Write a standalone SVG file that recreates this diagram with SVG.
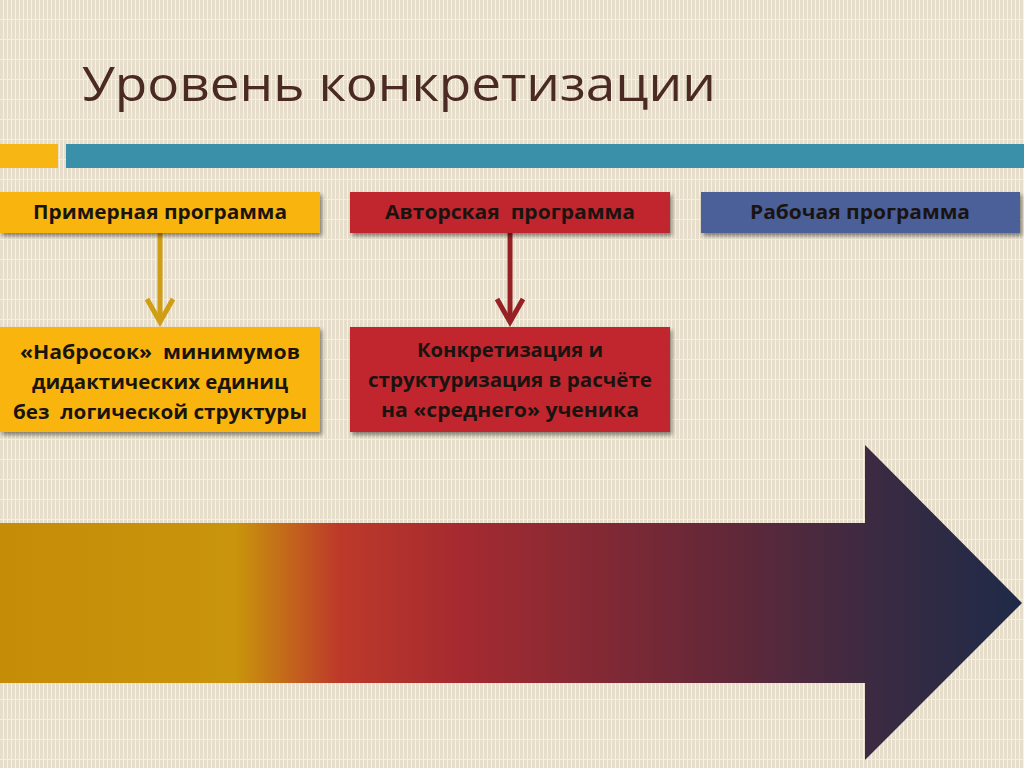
<svg xmlns="http://www.w3.org/2000/svg" width="1024" height="768" viewBox="0 0 1024 768">
<defs>
<pattern id="bg" width="4" height="20" patternUnits="userSpaceOnUse">
<rect width="4" height="20" fill="#E6DECA"/>
<rect x="3" width="1" height="20" fill="#F6F2E8"/>
<rect y="19" width="4" height="1" fill="#F3EEE2"/>
</pattern>
<linearGradient id="ag" x1="0" y1="0" x2="1024" y2="0" gradientUnits="userSpaceOnUse">
<stop offset="0" stop-color="#C58C08"/>
<stop offset="0.23" stop-color="#C9950C"/>
<stop offset="0.33" stop-color="#BD3A2A"/>
<stop offset="0.45" stop-color="#A52A30"/>
<stop offset="0.7" stop-color="#652838"/>
<stop offset="0.85" stop-color="#3C2A42"/>
<stop offset="1" stop-color="#1E2A48"/>
</linearGradient>
<filter id="sh" x="-10%" y="-20%" width="130%" height="150%">
<feGaussianBlur in="SourceAlpha" stdDeviation="2"/>
<feOffset dx="2" dy="3"/>
<feComponentTransfer><feFuncA type="linear" slope="0.45"/></feComponentTransfer>
<feMerge><feMergeNode/><feMergeNode in="SourceGraphic"/></feMerge>
</filter>
<style>
.lbl{font-family:"Open Sans","Liberation Sans",sans-serif;font-weight:bold;fill:#1A1410;text-anchor:middle;white-space:pre}
.top{font-size:19px}
.big{font-size:20px}
.cg{stroke:#D09E14;stroke-width:5;fill:none}
.cr{stroke:#962024;stroke-width:5;fill:none}
</style>
</defs>
<rect width="1024" height="768" fill="url(#bg)"/>
<text x="82" y="101" font-family="Open Sans, Liberation Sans, sans-serif" font-size="48" fill="#4A2A22" textLength="634" lengthAdjust="spacingAndGlyphs">Уровень конкретизации</text>
<rect x="0" y="144" width="58" height="24" fill="#F7B614"/>
<rect x="66" y="144" width="958" height="24" fill="#3A90A8"/>
<path id="bigarrow" d="M0,523 H865 V445 L1022,603 L865,760 V683 H0 Z" fill="url(#ag)"/>
<g id="connectors">
<line class="cg" x1="160" y1="233" x2="160" y2="322"/>
<polyline class="cg" points="147,299 160,322 173,299"/>
<line class="cr" x1="510" y1="233" x2="510" y2="322"/>
<polyline class="cr" points="497,299 510,322 523,299"/>
</g>
<g id="n1">
<rect x="0" y="192" width="320" height="41" fill="#F9B50C" filter="url(#sh)"/>
<text class="lbl top" x="160" y="219" textLength="254" lengthAdjust="spacingAndGlyphs">Примерная программа</text>
</g>
<g id="n2">
<rect x="350" y="192" width="320" height="41" fill="#C1272D" filter="url(#sh)"/>
<text class="lbl top" x="510" y="219" textLength="250" lengthAdjust="spacingAndGlyphs" xml:space="preserve">Авторская  программа</text>
</g>
<g id="n3">
<rect x="701" y="192" width="319" height="41" fill="#4B5F99" filter="url(#sh)"/>
<text class="lbl top" x="860" y="219" textLength="220" lengthAdjust="spacingAndGlyphs">Рабочая программа</text>
</g>
<g id="n4">
<rect x="0" y="327" width="320" height="105" fill="#F9B50C" filter="url(#sh)"/>
<text class="lbl big" x="160" y="359" textLength="280" lengthAdjust="spacingAndGlyphs" xml:space="preserve">«Набросок»  минимумов</text>
<text class="lbl big" x="160" y="389" textLength="256" lengthAdjust="spacingAndGlyphs">дидактических единиц</text>
<text class="lbl big" x="160" y="419" textLength="294" lengthAdjust="spacingAndGlyphs" xml:space="preserve">без  логической структуры</text>
</g>
<g id="n5">
<rect x="350" y="327" width="320" height="105" fill="#C1272D" filter="url(#sh)"/>
<text class="lbl big" x="510" y="357" textLength="186" lengthAdjust="spacingAndGlyphs">Конкретизация и</text>
<text class="lbl big" x="510" y="387" textLength="284" lengthAdjust="spacingAndGlyphs">структуризация в расчёте</text>
<text class="lbl big" x="510" y="417" textLength="258" lengthAdjust="spacingAndGlyphs">на «среднего» ученика</text>
</g>
</svg>
